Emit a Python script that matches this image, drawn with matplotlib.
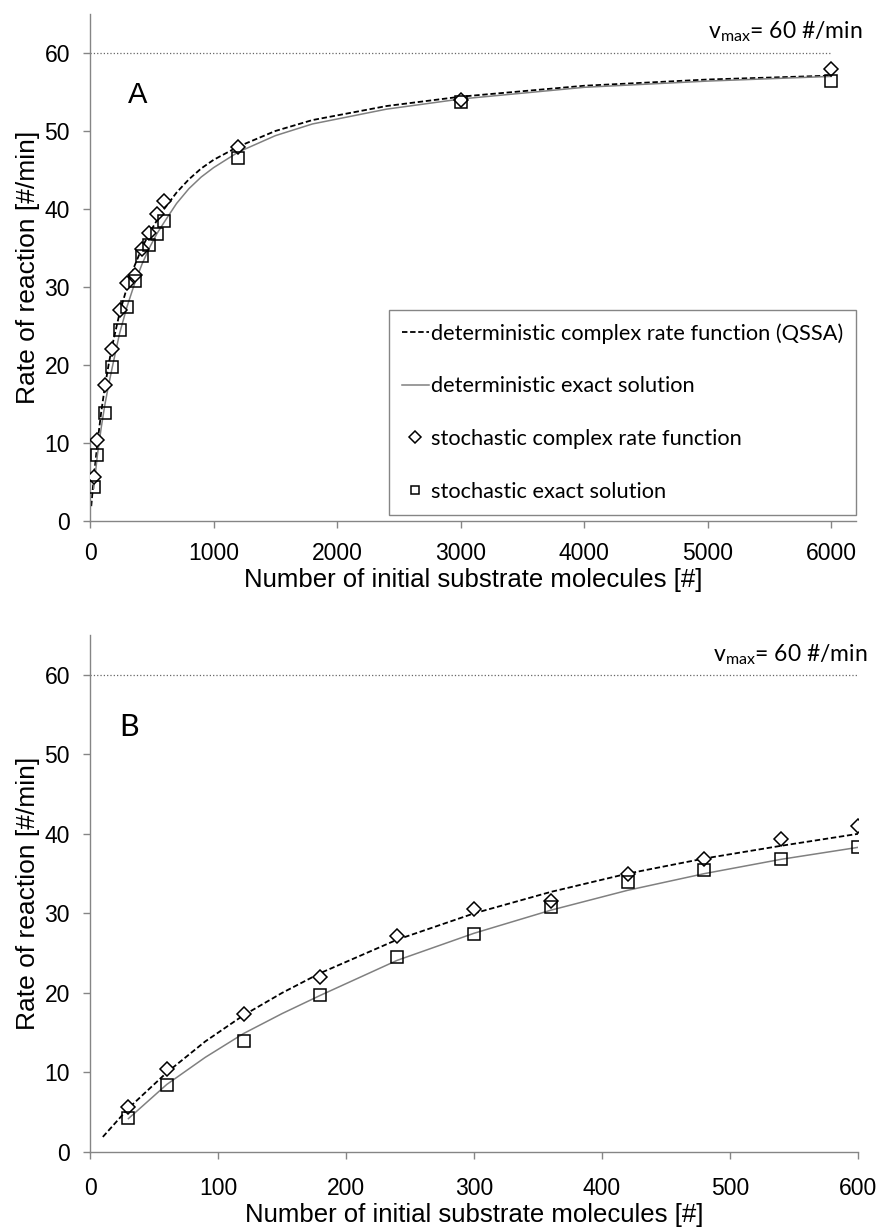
"""Michaelis-Menten rate curves: deterministic vs stochastic (panels A and B)."""

import matplotlib
matplotlib.use("Agg")
import matplotlib.pyplot as plt
from matplotlib.ticker import MultipleLocator

# Stochastic simulation results (markers)
substrate = [30, 60, 120, 180, 240, 300, 360, 420, 480, 540, 600, 1200, 3000, 6000]
stoch_complex = [5.6, 10.4, 17.4, 22.0, 27.1, 30.5, 31.6, 34.9, 36.9, 39.4, 41.0, 48.0, 54.0, 57.9]
stoch_exact = [4.3, 8.4, 13.9, 19.8, 24.5, 27.4, 30.8, 34.0, 35.4, 36.8, 38.4, 46.5, 53.7, 56.4]

# Deterministic curves
qssa_x = [10, 30, 60, 90, 120, 150, 180, 240, 300, 360, 420, 480, 540, 600,
          700, 800, 900, 1000, 1200, 1500, 1800, 2400, 3000, 4000, 5000, 6000]
qssa_y = [1.9, 5.5, 10.0, 13.9, 17.2, 20.0, 22.5, 26.7, 30.0, 32.7, 35.0, 36.9, 38.5, 40.0,
          42.1, 43.8, 45.2, 46.3, 48.0, 50.0, 51.4, 53.2, 54.4, 55.8, 56.6, 57.1]
exact_x = [30, 60, 90, 120, 150, 180, 240, 300, 360, 420, 480, 540, 600,
           700, 800, 900, 1000, 1200, 1500, 1800, 2400, 3000, 4000, 5000, 6000]
exact_y = [4.2, 8.5, 11.9, 14.9, 17.4, 19.7, 24.1, 27.5, 30.4, 32.9, 35.0, 36.8, 38.3,
           40.7, 42.6, 44.1, 45.3, 47.3, 49.4, 50.9, 52.8, 54.1, 55.6, 56.4, 57.0]

VMAX = 60
N_ZOOM = 11  # points shown in panel B (up to 600 molecules)

AXIS_GREY = "#858585"
TICK_FONT = "Liberation Sans"
TEXT_FONT = "Lato"

plt.rcParams["font.family"] = [TICK_FONT, "DejaVu Sans"]
plt.rcParams["mathtext.fontset"] = "custom"
plt.rcParams["mathtext.rm"] = TEXT_FONT
plt.rcParams["mathtext.it"] = TEXT_FONT


def style_axis(ax, xmax, xstep, xpad):
    ax.set_xlim(0, xmax)
    ax.set_ylim(0, 65)
    ax.xaxis.set_major_locator(MultipleLocator(xstep))
    ax.yaxis.set_major_locator(MultipleLocator(10))
    for side in ("top", "right"):
        ax.spines[side].set_visible(False)
    for side in ("left", "bottom"):
        ax.spines[side].set_color(AXIS_GREY)
        ax.spines[side].set_linewidth(1.0)
    ax.tick_params(direction="out", length=5, width=1.0, color=AXIS_GREY, labelsize=16.5)
    ax.tick_params(axis="y", pad=9.5)
    ax.tick_params(axis="x", pad=xpad)
    ax.set_xlabel("Number of initial substrate molecules [#]", fontsize=18.5, labelpad=2)
    ax.set_ylabel("Rate of reaction [#/min]", fontsize=19, labelpad=3)


def draw_panel(ax, n_pts, line_end):
    ax.plot([0, line_end], [VMAX, VMAX], linestyle=":", color="#666666", linewidth=0.9)
    ax.plot(qssa_x, qssa_y, linestyle=(0, (3, 1.5)), color="black", linewidth=1.3,
            label="deterministic complex rate function (QSSA)")
    ax.plot(exact_x, exact_y, linestyle="-", color="#808080", linewidth=1.1,
            label="deterministic exact solution")
    ax.plot(substrate[:n_pts], stoch_complex[:n_pts], linestyle="none", marker="D",
            markersize=7.5, markerfacecolor="white", markeredgecolor="black",
            markeredgewidth=1.1, label="stochastic complex rate function", zorder=4)
    ax.plot(substrate[:n_pts], stoch_exact[:n_pts], linestyle="none", marker="s",
            markersize=8, markerfacecolor="none", markeredgecolor="black",
            markeredgewidth=1.1, label="stochastic exact solution", zorder=4)


fig = plt.figure(figsize=(8.8, 12.27), dpi=100)
ax_a = fig.add_axes([0.1023, 0.5754, 0.8705, 0.4132])
ax_b = fig.add_axes([0.1023, 0.0611, 0.8727, 0.4214])

# Panel A: full range
draw_panel(ax_a, len(substrate), 6000)
style_axis(ax_a, 6200, 1000, xpad=10)
ax_a.text(0.05, 0.824, "A", transform=ax_a.transAxes, fontsize=21, family=TICK_FONT)
ax_a.text(1.008, 0.951, r"v$_{\mathrm{max}}$= 60 #/min", transform=ax_a.transAxes,
          ha="right", va="baseline", fontsize=16.5, family=TEXT_FONT)
leg = ax_a.legend(loc="lower right", bbox_to_anchor=(1.0, 0.012), frameon=True,
                  fancybox=False, edgecolor=AXIS_GREY, framealpha=1,
                  prop={"family": TEXT_FONT, "size": 15.7},
                  handlelength=1.2, handletextpad=0.1, labelspacing=1.5,
                  borderpad=0.6, borderaxespad=0, numpoints=1, markerscale=0.75)
leg.get_frame().set_linewidth(1.0)

# Panel B: zoom on the first 600 molecules
draw_panel(ax_b, N_ZOOM, 600)
style_axis(ax_b, 600, 100, xpad=13)
ax_b.text(0.038, 0.805, "B", transform=ax_b.transAxes, fontsize=22, family=TEXT_FONT)
ax_b.text(1.012, 0.948, r"v$_{\mathrm{max}}$= 60 #/min", transform=ax_b.transAxes,
          ha="right", va="baseline", fontsize=16.5, family=TEXT_FONT)

fig.savefig("out.png", dpi=100, facecolor="white")
plt.close(fig)
